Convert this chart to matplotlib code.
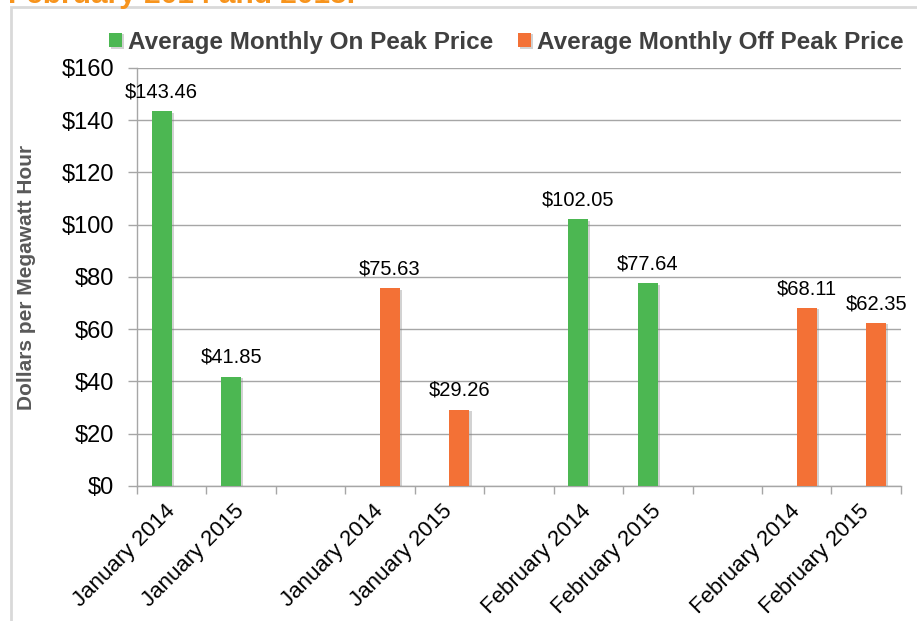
import matplotlib
matplotlib.use('Agg')
import matplotlib.pyplot as plt
import numpy as np
from matplotlib.patches import Rectangle
from matplotlib import patheffects as pe
from matplotlib.ticker import FuncFormatter

plt.rcParams['font.family'] = ['Liberation Sans', 'DejaVu Sans']

# categories (blank slots separate the groups)
categories = ['January 2014', 'January 2015', '', 'January 2014', 'January 2015', '',
              'February 2014', 'February 2015', '', 'February 2014', 'February 2015']
on_peak = [143.46, 41.85, np.nan, np.nan, np.nan, np.nan, 102.05, 77.64, np.nan, np.nan, np.nan]
off_peak = [np.nan, np.nan, np.nan, 75.63, 29.26, np.nan, np.nan, np.nan, np.nan, 68.11, 62.35]
series_names = ['Average Monthly On Peak Price', 'Average Monthly Off Peak Price']
green = '#4cb752'
orange = '#f37136'

fig = plt.figure(figsize=(9.17, 6.21), dpi=100)
ax = fig.add_axes([0.1494, 0.2174, 0.833, 0.6731])

x = np.arange(len(categories))
w = 0.288
shadow = [pe.SimplePatchShadow(offset=(1.5, -1), shadow_rgbFace='#808080', alpha=0.35), pe.Normal()]
b1 = ax.bar(x - w/2, on_peak, w, color=green, label=series_names[0], zorder=3)
b2 = ax.bar(x + w/2, off_peak, w, color=orange, label=series_names[1], zorder=3)
for b in list(b1) + list(b2):
    b.set_path_effects(shadow)

# data labels
for xs, vals in [(x - w/2, on_peak), (x + w/2, off_peak)]:
    for xi, v in zip(xs, vals):
        if not np.isnan(v):
            ax.annotate('${:.2f}'.format(v), (xi, v), xytext=(0, 7), textcoords='offset points',
                        ha='center', va='bottom', fontsize=14.5, color='black', zorder=4)

ax.set_xlim(-0.5, len(categories) - 0.5)
ax.set_ylim(0, 160)
ax.set_yticks(np.arange(0, 161, 20))
ax.yaxis.set_major_formatter(FuncFormatter(lambda v, p: '${:.0f}'.format(v)))
ax.grid(axis='y', color='#a6a6a6', lw=1, zorder=0)
ax.set_axisbelow(True)

ax.set_xticks(x)
ax.set_xticklabels(categories, rotation=45, ha='right', va='center', rotation_mode='anchor',
                   fontsize=16)
ax.set_xticks(np.arange(-0.5, len(categories)), minor=True)
ax.tick_params(axis='x', which='major', length=0, pad=16)
ax.tick_params(axis='x', which='minor', length=6, color='#a6a6a6', width=1)
ax.tick_params(axis='y', length=6.5, color='#a6a6a6', width=1, pad=10, labelsize=17)

for s in ['top', 'right']:
    ax.spines[s].set_visible(False)
for s in ['left', 'bottom']:
    ax.spines[s].set_color('#a6a6a6')
    ax.spines[s].set_linewidth(1)

ax.set_ylabel('Dollars per Megawatt Hour', fontsize=15, fontweight='bold', color='#595959')
ax.yaxis.set_label_coords(-0.132, 0.5)

fig.legend(handles=[b1, b2], loc='center', bbox_to_anchor=(0.552, 0.932), ncol=2, frameon=False,
           prop={'size': 17.5, 'weight': 'bold'}, labelcolor='#404040', handlelength=0.55,
           handleheight=0.55, handletextpad=0.25, columnspacing=1.0)

# cut-off heading and outer frame
fig.text(8/917, 1 - 3/621, 'February 2014 and 2015.', color='#f7941d', fontsize=21.5,
         fontweight='bold', ha='left', va='baseline')
fig.patches.append(Rectangle((11/917, -0.05), 1.2, 1.05 - 7/621, transform=fig.transFigure,
                             fill=False, edgecolor='#d9d9d9', lw=2, zorder=0))

plt.savefig('out.png', dpi=100)
